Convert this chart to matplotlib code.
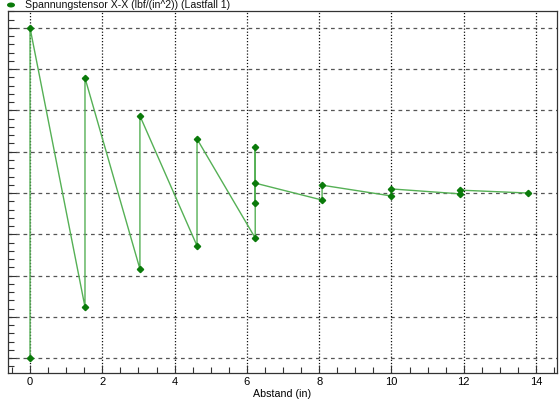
import matplotlib
matplotlib.use("Agg")
import matplotlib.pyplot as plt
from matplotlib.ticker import MultipleLocator, NullFormatter
from matplotlib.patches import Ellipse

# Data: path order of the plotted line
abstand = [0.0, 0.0, 1.52, 1.52, 3.04, 3.04, 4.62, 4.62, 6.23, 6.23, 6.23, 6.23,
           8.08, 8.08, 9.99, 9.99, 11.9, 11.9, 13.78]
spannung = [0.0, 8.0, 1.24, 6.79, 2.16, 5.87, 2.72, 5.31, 2.91, 5.12, 3.76, 4.24,
            3.83, 4.19, 3.93, 4.10, 3.98, 4.07, 4.0]
legend_label = "Spannungstensor X-X (lbf/(in^2)) (Lastfall 1)"
x_label = "Abstand (in)"
x_ticks = [0, 2, 4, 6, 8, 10, 12, 14]
y_ticks = [0, 1, 2, 3, 4, 5, 6, 7, 8]

plt.rcParams['font.family'] = ['Liberation Sans', 'DejaVu Sans']

fig = plt.figure(figsize=(5.6, 4.0), dpi=100)
ax = fig.add_axes([8/560, 1-373/400, 549/560, 362/400])

ax.plot(abstand, spannung, color='#55b055', lw=1.0, zorder=3)
ax.plot(abstand, spannung, ls='none', marker='D', ms=3.2, color='#0a7a0a',
        mec='#0a7a0a', zorder=4)

ax.set_xlim(-0.61, 14.58)
ax.set_ylim(-0.36, 8.41)
ax.set_xticks(x_ticks)
ax.set_xticklabels([str(t) for t in x_ticks])
ax.xaxis.set_minor_locator(MultipleLocator(0.5))
ax.set_yticks(y_ticks)
ax.yaxis.set_major_formatter(NullFormatter())
ax.yaxis.set_minor_locator(MultipleLocator(0.2))

for g in y_ticks:
    ax.axhline(g, color='#555555', lw=0.9, ls=(0, (3, 3)), zorder=1)
for g in x_ticks:
    ax.axvline(g, color='#111111', lw=0.9, ls=(0, (1, 1.5)), zorder=1)

ax.tick_params(axis='both', which='major', direction='in', length=6, width=0.8,
               color='#333333', labelsize=8, pad=3)
ax.tick_params(axis='both', which='minor', direction='in', length=4, width=0.8,
               color='#333333')
ax.tick_params(axis='y', which='both', right=False)
ax.tick_params(axis='x', which='both', top=False)
for s in ax.spines.values():
    s.set_color('#333333')
    s.set_linewidth(0.9)

ax.set_xlabel(x_label, fontsize=7.7, labelpad=1)

fig.add_artist(Ellipse((11/560, 1-5/400), 8/560, 5/400, transform=fig.transFigure,
                       facecolor='#0a7a0a', edgecolor='none'))
fig.text(25/560, 1-5/400, legend_label, fontsize=7.6, ha='left', va='center', color='#111111')

fig.savefig('out.png', dpi=100)
